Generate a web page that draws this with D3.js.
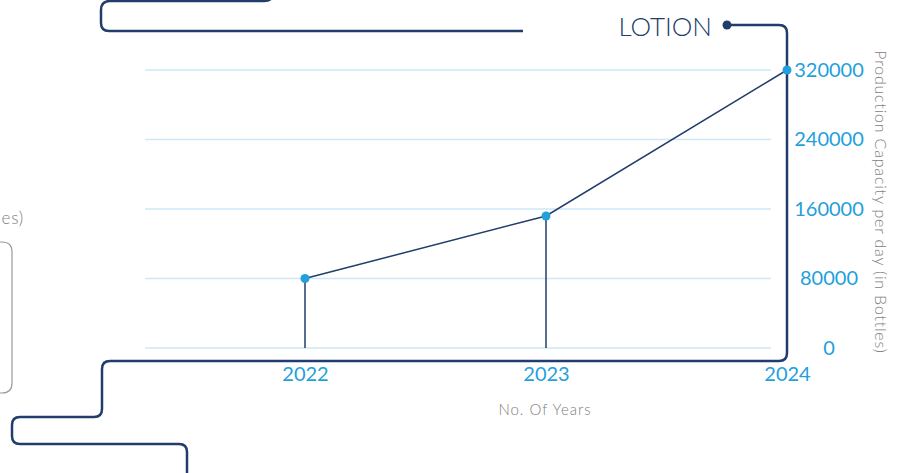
<!DOCTYPE html>
<html>
<head>
<meta charset="utf-8">
<script src="https://cdn.jsdelivr.net/npm/d3@7"></script>
<style>
  html, body { margin: 0; padding: 0; background: #fff; }
  svg { display: block; font-family: "Century Gothic", Lato, sans-serif; font-weight: 300; }
</style>
</head>
<body>
<svg width="904" height="473"></svg>
<script>
// chart data
var years = ["2022", "2023", "2024"];
var capacity = [80000, 152000, 320000];
var yTicks = [0, 80000, 160000, 240000, 320000];
var seriesName = "LOTION";

var navy = "#203d6b",
    blue = "#239fdc",
    grey = "#7e7e7e";

var svg = d3.select("svg");

var x = d3.scalePoint().domain(years).range([305, 787]);
var y = d3.scaleLinear().domain([0, 320000]).range([348, 70]);

var pts = years.map(function(d, i) { return {year: d, value: capacity[i]}; });

// light grid
svg.append("g")
  .selectAll("line")
  .data(yTicks)
  .enter()
  .append("line")
    .attr("x1", 145)
    .attr("x2", 771)
    .attr("y1", function(d) { return y(d); })
    .attr("y2", function(d) { return y(d); })
    .attr("stroke", "#cde8f6")
    .attr("stroke-width", 1.5);

// decorative frame pieces (neighbouring panels)
svg.append("path")
  .attr("d", "M274,-6 Q272,1 264,1 H110 Q101,1 101,10 V23 Q101,31 109,31 H523")
  .attr("fill", "none").attr("stroke", navy).attr("stroke-width", 2.5);

svg.append("path")
  .attr("d", "M727,25 H779 Q787,25 787,33 V353 Q787,361 779,361 H110 Q102,361 102,369 V409 Q102,417 94,417 H20 Q12,417 12,425 V436 Q12,444 20,444 H179 Q187,444 187,452 V480")
  .attr("fill", "none").attr("stroke", navy).attr("stroke-width", 2.5);

svg.append("path")
  .attr("d", "M-10,242 H2 Q12,242 12,252 V383 Q12,393 2,393 H-10")
  .attr("fill", "none").attr("stroke", "#9a9a9a").attr("stroke-width", 1.2);

svg.append("text")
  .text("(in Bottles)")
  .attr("x", 24).attr("y", 224)
  .attr("text-anchor", "end")
  .attr("font-size", 17)
  .attr("letter-spacing", 0.8)
  .attr("fill", grey);

// legend label
svg.append("circle").attr("cx", 727).attr("cy", 25).attr("r", 4.5).attr("fill", navy);
svg.append("text")
  .text(seriesName)
  .attr("x", 712).attr("y", 36)
  .attr("text-anchor", "end")
  .attr("font-size", 26)
  .attr("fill", navy);

// stems
svg.append("g")
  .selectAll("line")
  .data(pts)
  .enter()
  .append("line")
    .attr("x1", function(d) { return x(d.year); })
    .attr("x2", function(d) { return x(d.year); })
    .attr("y1", function(d) { return y(d.value); })
    .attr("y2", y(0))
    .attr("stroke", navy)
    .attr("stroke-width", 1.5);

// series line
svg.append("path")
  .datum(pts)
  .attr("d", d3.line()
    .x(function(d) { return x(d.year); })
    .y(function(d) { return y(d.value); }))
  .attr("fill", "none")
  .attr("stroke", navy)
  .attr("stroke-width", 1.5);

svg.append("g")
  .selectAll("circle")
  .data(pts)
  .enter()
  .append("circle")
    .attr("cx", function(d) { return x(d.year); })
    .attr("cy", function(d) { return y(d.value); })
    .attr("r", 4.5)
    .attr("fill", blue);

// y axis (right side)
var yAxis = svg.append("g")
  .attr("transform", "translate(829,0)")
  .call(d3.axisRight(y).tickValues(yTicks).tickSize(0).tickPadding(0).tickFormat(d3.format("d")));
yAxis.select(".domain").remove();
yAxis.selectAll("text")
  .attr("text-anchor", "middle")
  .attr("font-family", "\"Century Gothic\", Lato, sans-serif")
  .attr("font-weight", 400)
  .attr("font-size", 20)
  .attr("fill", blue);

// x axis
var xAxis = svg.append("g")
  .attr("transform", "translate(0,367)")
  .call(d3.axisBottom(x).tickSize(0).tickPadding(0));
xAxis.select(".domain").remove();
xAxis.selectAll("text")
  .attr("font-family", "\"Century Gothic\", Lato, sans-serif")
  .attr("font-weight", 400)
  .attr("font-size", 20)
  .attr("fill", blue);

// axis titles
svg.append("text")
  .text("No. Of Years")
  .attr("x", 545).attr("y", 415)
  .attr("text-anchor", "middle")
  .attr("font-size", 15)
  .attr("letter-spacing", 1)
  .attr("fill", grey);

svg.append("text")
  .text("Production Capacity per day (in Bottles)")
  .attr("transform", "translate(875,202) rotate(90)")
  .attr("text-anchor", "middle")
  .attr("font-size", 16)
  .attr("letter-spacing", 0.8)
  .attr("fill", grey);
</script>
</body>
</html>
